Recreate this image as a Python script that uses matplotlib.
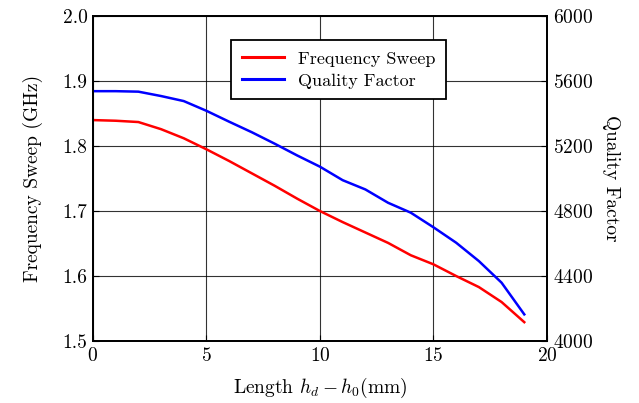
import numpy as np
import matplotlib
matplotlib.use("Agg")
import matplotlib.pyplot as plt

plt.rcParams['font.family'] = 'serif'
plt.rcParams['font.serif'] = ['cmr10']
plt.rcParams['mathtext.fontset'] = 'cm'
plt.rcParams['axes.formatter.use_mathtext'] = True
plt.rcParams['font.size'] = 14

# Sweep data: length offset (mm), frequency (GHz), quality factor
length = [0, 1, 2, 3, 4, 5, 6, 7, 8, 9, 10, 11, 12, 13, 14, 15, 16, 17, 18, 19]
freq = [1.840, 1.839, 1.837, 1.826, 1.812, 1.795, 1.777, 1.758, 1.739, 1.719,
        1.700, 1.683, 1.667, 1.651, 1.632, 1.618, 1.600, 1.583, 1.560, 1.529]
qfac = [5538, 5538, 5535, 5508, 5477, 5417, 5350, 5285, 5215, 5142,
        5073, 4990, 4933, 4851, 4790, 4700, 4605, 4492, 4359, 4164]

fig = plt.figure(figsize=(6.39, 4.03), dpi=100)
ax = fig.add_axes([0.1455, 0.1538, 0.7105, 0.8062])
ax2 = ax.twinx()

l1, = ax.plot(length, freq, color='red', lw=1.8, label='Frequency Sweep')
l2, = ax2.plot(length, qfac, color='blue', lw=1.8, label='Quality Factor')

ax.set_xlim(0, 20)
ax.set_ylim(1.5, 2.0)
ax2.set_ylim(4000, 6000)
ax.set_xticks([0, 5, 10, 15, 20])
ax.set_yticks([1.5, 1.6, 1.7, 1.8, 1.9, 2.0])
ax.set_yticklabels(['1.5', '1.6', '1.7', '1.8', '1.9', '2.0'])
ax2.set_yticks([4000, 4400, 4800, 5200, 5600, 6000])
ax.grid(True, color='black', lw=0.8, alpha=0.8)
ax.set_axisbelow(True)

for a in (ax, ax2):
    a.tick_params(direction='in', length=4, width=0.8, labelsize=14, pad=4)
    for s in a.spines.values():
        s.set_linewidth(1.3)

ax.set_xlabel(r'Length $h_d - h_0$(mm)', fontsize=14, labelpad=8)
ax.set_ylabel('Frequency Sweep (GHz)', fontsize=14, labelpad=14)
ax2.set_ylabel('Quality Factor', fontsize=14, rotation=270, labelpad=20)

leg = ax.legend(handles=[l1, l2], loc='upper left', bbox_to_anchor=(0.305, 0.926),
                borderaxespad=0, fancybox=False, framealpha=1, edgecolor='black',
                fontsize=13, handlelength=2.3, borderpad=0.6, labelspacing=0.35)
leg.get_frame().set_linewidth(1.3)
for h in leg.get_lines():
    h.set_linewidth(2.2)

fig.savefig('out.png', dpi=100)
